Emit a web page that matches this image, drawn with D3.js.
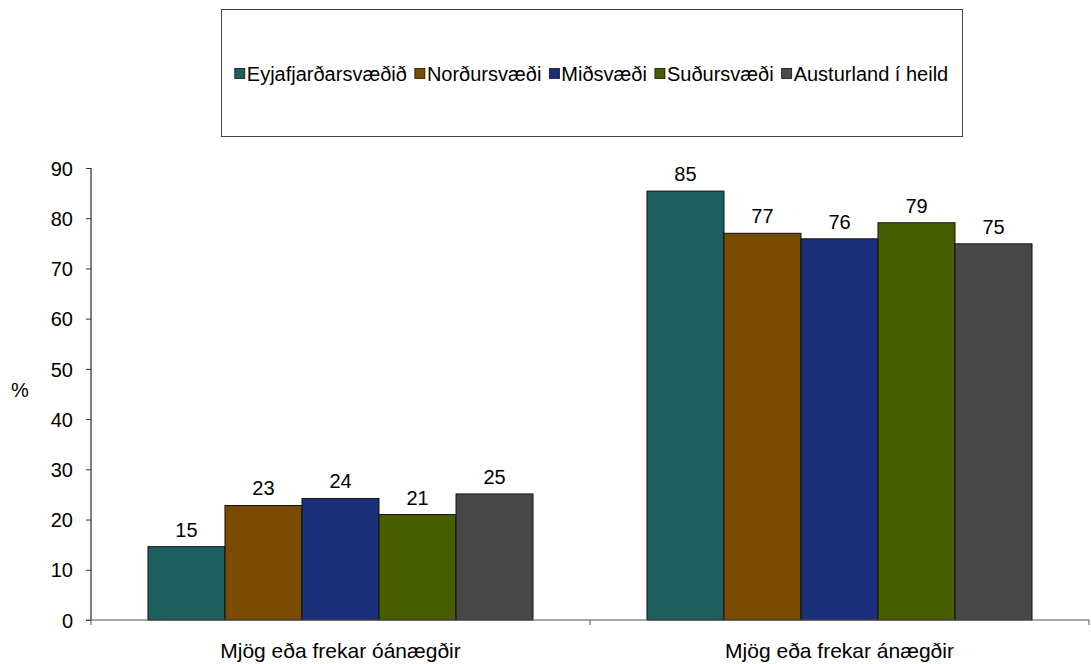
<!DOCTYPE html>
<html>
<head>
<meta charset="utf-8">
<script src="https://cdn.jsdelivr.net/npm/d3@7"></script>
<style>
  body { margin: 0; background: #fff; }
  svg text { font-family: "Liberation Sans", Arial, sans-serif; fill: #000; }
</style>
</head>
<body>
<div id="chart"></div>
<script>

var categories = ["Mjög eða frekar óánægðir", "Mjög eða frekar ánægðir"];
var seriesNames = ["Eyjafjarðarsvæðið", "Norðursvæði", "Miðsvæði", "Suðursvæði", "Austurland í heild"];
var seriesColors = ["#1d5f5f", "#7a4a00", "#1c2f7a", "#465e00", "#484848"];
// one array per series: [óánægðir, ánægðir]
var eyjafjordur = [14.6, 85.4];
var nordur = [22.8, 77.0];
var midsvaedi = [24.2, 75.9];
var sudur = [21.0, 79.1];
var austurland = [25.1, 74.9];
var yTicks = [0, 10, 20, 30, 40, 50, 60, 70, 80, 90];

var seriesValues = [eyjafjordur, nordur, midsvaedi, sudur, austurland];

var width = 1091, height = 664;
var plot = {left: 91, right: 1089, top: 168, bottom: 620};

var svg = d3.select("#chart").append("svg")
  .attr("width", width)
  .attr("height", height);

var x0 = d3.scaleBand()
  .domain(categories)
  .range([plot.left, plot.right])
  .padding(0);

var x1 = d3.scaleBand()
  .domain(seriesNames)
  .range([0, x0.bandwidth()])
  .paddingInner(0)
  .paddingOuter(0.74);

var y = d3.scaleLinear()
  .domain([0, 90])
  .range([plot.bottom, plot.top]);

var color = d3.scaleOrdinal().domain(seriesNames).range(seriesColors);

// flat rows for bars
var rows = [];
categories.forEach(function(c, ci) {
  seriesNames.forEach(function(s, si) {
    rows.push({cat: c, name: s, value: seriesValues[si][ci]});
  });
});

// y axis
var yAxis = d3.axisLeft(y).tickValues(yTicks).tickSize(5).tickPadding(13).tickFormat(d3.format("d"));
var yG = svg.append("g")
  .attr("transform", "translate(" + plot.left + ",0)")
  .call(yAxis);
yG.select(".domain").attr("stroke", "#000").attr("d", "M0," + plot.top + "V" + plot.bottom);
yG.selectAll(".tick line").attr("stroke", "#333");
yG.selectAll(".tick text").style("font-size", "20px").attr("dy", "0.36em");

svg.append("text")
  .attr("x", 20).attr("y", 392)
  .attr("text-anchor", "middle")
  .attr("dominant-baseline", "middle")
  .style("font-size", "20px")
  .text("%");

// bars
var groups = svg.append("g").selectAll("g.bar")
  .data(rows)
  .enter().append("g")
  .attr("class", "bar");

groups.append("rect")
  .attr("x", function(d) { return x0(d.cat) + x1(d.name); })
  .attr("y", function(d) { return y(d.value); })
  .attr("width", x1.bandwidth())
  .attr("height", function(d) { return y(0) - y(d.value); })
  .attr("fill", function(d) { return color(d.name); })
  .attr("stroke", "#111")
  .attr("stroke-width", 1);

groups.append("text")
  .attr("x", function(d) { return x0(d.cat) + x1(d.name) + x1.bandwidth() / 2; })
  .attr("y", function(d) { return y(d.value) - 10; })
  .attr("text-anchor", "middle")
  .style("font-size", "20px")
  .text(function(d) { return d3.format(".0f")(d.value); });

// x axis
var xAxis = d3.axisBottom(x0).tickSize(0).tickPadding(23);
var xG = svg.append("g")
  .attr("transform", "translate(0," + plot.bottom + ")")
  .call(xAxis);
xG.select(".domain").attr("stroke", "#555").attr("d", "M" + (plot.left - 5) + ",0H" + plot.right);
xG.selectAll(".tick text").style("font-size", "21px");

// category separators
var sepPos = [plot.left, plot.left + x0.bandwidth(), plot.right];
svg.append("g").selectAll("line")
  .data(sepPos)
  .enter().append("line")
  .attr("x1", function(d) { return d; })
  .attr("x2", function(d) { return d; })
  .attr("y1", plot.bottom)
  .attr("y2", plot.bottom + 5)
  .attr("stroke", "#555");

// legend
var legendBox = {x: 221, y: 9, w: 741, h: 127};
svg.append("rect")
  .attr("x", legendBox.x + 0.5).attr("y", legendBox.y + 0.5)
  .attr("width", legendBox.w).attr("height", legendBox.h)
  .attr("fill", "#fff")
  .attr("stroke", "#444");

var legend = svg.append("g");
var items = legend.selectAll("g")
  .data(seriesNames)
  .enter().append("g");

items.append("rect")
  .attr("width", 10).attr("height", 10)
  .attr("y", -5)
  .attr("fill", function(d) { return color(d); })
  .attr("stroke", "#111")
  .attr("stroke-width", 0.8);

items.append("text")
  .attr("x", 12)
  .attr("dy", "0.35em")
  .style("font-size", "20px")
  .text(function(d) { return d; });

var offset = 0;
var positions = [];
items.each(function() {
  positions.push(offset);
  offset += this.getBBox().width + 8;
});
var totalW = offset - 8;
var startX = legendBox.x + (legendBox.w - totalW) / 2;
items.attr("transform", function(d, i) {
  return "translate(" + (startX + positions[i]) + "," + (legendBox.y + legendBox.h / 2 + 1) + ")";
});

</script>
</body>
</html>
